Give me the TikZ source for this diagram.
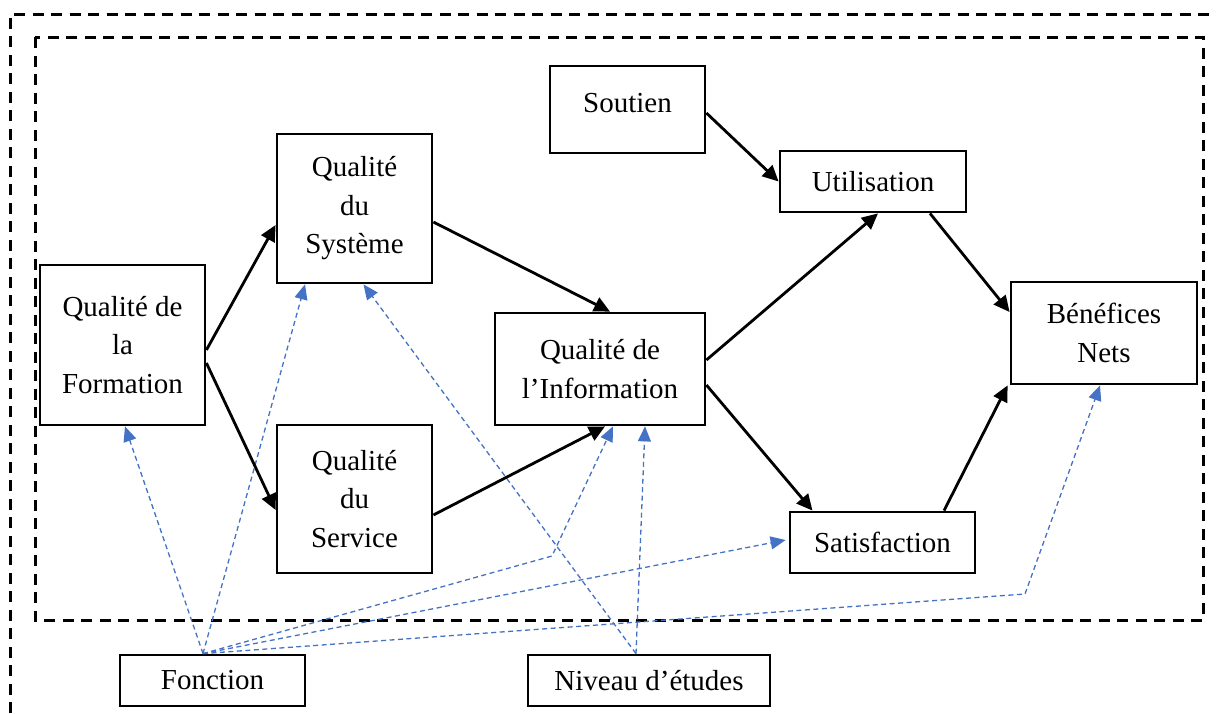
\documentclass[tikz,border=0pt]{standalone}
\usepackage{fontspec}
\setmainfont{Liberation Serif}
\usetikzlibrary{arrows.meta,calc}
\definecolor{linkblue}{HTML}{4472C4}
\begin{document}
\begin{tikzpicture}[x=1pt,y=-1pt,
  box/.style={draw, line width=2.8pt, rectangle, inner sep=0pt, align=center,
    font=\fontsize{29}{38.5}\selectfont},
  flow/.style={line width=2.8pt, -{Triangle[length=16pt,width=15pt]}},
  link/.style={linkblue, line width=1.3pt, dash pattern=on 5pt off 3.5pt,
    -{Triangle[length=15pt,width=13pt]}},
  frame/.style={line width=3pt, dash pattern=on 11pt off 7.5pt}]
\useasboundingbox (0,0) rectangle (1216,713);

% dashed frames
\draw[frame] (10,713) -- (10,14) -- (1216,14);
\draw[frame] (35,37) rectangle (1203,620);

% model boxes
\node[box, minimum width=165pt, minimum height=160pt] (form) at (122.5,345) {Qualité de\\la\\Formation};
\node[box, minimum width=155pt, minimum height=149pt] (sys) at (354.5,208.5) {Qualité\\du\\Système};
\node[box, minimum width=155pt, minimum height=148pt] (serv) at (354.5,499) {Qualité\\du\\Service};
\node[box, minimum width=155pt, minimum height=87pt, text height=20pt, text depth=6pt] (sout) at (627.5,109.5) {\raisebox{4pt}{Soutien}};
\node[box, minimum width=186pt, minimum height=61pt] (util) at (873,181.5) {Utilisation};
\node[box, minimum width=210pt, minimum height=112pt] (info) at (600,369) {Qualité de\\l’Information};
\node[box, minimum width=186pt, minimum height=102pt] (ben) at (1104,333) {Bénéfices\\Nets};
\node[box, minimum width=185pt, minimum height=61pt] (sat) at (882.5,542.5) {Satisfaction};
\node[box, minimum width=185pt, minimum height=51pt] (fonc) at (212.5,680.5) {Fonction};
\node[box, minimum width=242pt, minimum height=51pt] (niv) at (649,680.5) {Niveau d’études};

% moderating variables
\coordinate (f) at ($(fonc.north)+(-9.5,0)$);
\coordinate (n) at ($(niv.north)+(-13,0)$);
\coordinate (bendI) at (552,556);
\coordinate (bendB) at (1025,594);
\draw[link] (f) -- ($(form.south)+(2.5,0)$);
\draw[link] (f) -- ($(sys.south)+(-49.5,0)$);
\draw[link] (f) -- (bendI) -- ($(info.south)+(13,0)$);
\draw[link] (f) -- ($(sat.west)+(-3,-2.5)$);
\draw[link] (f) -- (bendB) -- ($(ben.south)+(-4,0)$);
\draw[link] (n) -- ($(sys.south)+(9,0)$);
\draw[link] (n) -- ($(info.south)+(45,0)$);

% causal paths
\draw[flow] ($(form.east)+(0,5)$) -- ($(sys.west)+(0,16.5)$);
\draw[flow] ($(form.east)+(0,18)$) -- ($(serv.west)+(0,11)$);
\draw[flow] ($(sys.east)+(0,13.5)$) -- ($(info.north)+(10,0)$);
\draw[flow] ($(serv.east)+(0,16)$) -- ($(info.south)+(5,0)$);
\draw[flow] ($(sout.east)+(0,3.5)$) -- (util.west);
\draw[flow] ($(info.east)+(0,-9)$) -- ($(util.south)+(5,0)$);
\draw[flow] ($(info.east)+(0,16)$) -- ($(sat.north)+(-70,0)$);
\draw[flow] ($(util.south)+(57,0)$) -- ($(ben.west)+(0,-21)$);
\draw[flow] ($(sat.north)+(61.5,0)$) -- ($(ben.south west)+(-2,0)$);
\end{tikzpicture}
\end{document}
